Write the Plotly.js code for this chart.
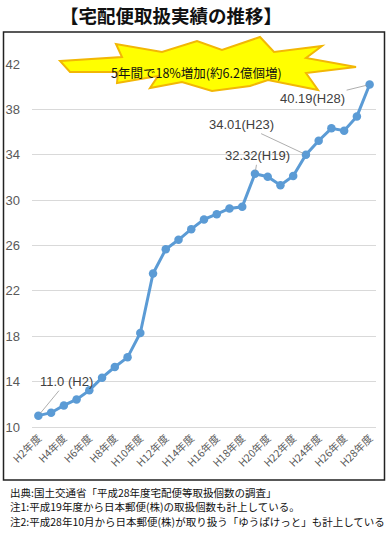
<!DOCTYPE html>
<html><head><meta charset="utf-8">
<script src="https://cdn.plot.ly/plotly-3.0.1.min.js"></script>
<style>html,body{margin:0;padding:0;background:#fff;}#chart{width:389px;height:534px;}</style>
</head><body><div id="chart"></div>
<script>
const years = ["H2年度","H3年度","H4年度","H5年度","H6年度","H7年度","H8年度","H9年度","H10年度","H11年度","H12年度","H13年度","H14年度","H15年度","H16年度","H17年度","H18年度","H19年度","H20年度","H21年度","H22年度","H23年度","H24年度","H25年度","H26年度","H27年度","H28年度"];
const volumes = [11.0,11.26,11.9,12.43,13.23,14.35,15.29,16.14,18.29,23.53,25.67,26.5,27.44,28.3,28.76,29.27,29.41,32.32,32.06,31.32,32.12,34.01,35.23,36.33,36.12,37.38,40.19];
const tickLabels = years.filter((_, i) => i % 2 === 0);
const yTicks = [10,14,18,22,26,30,34,38,42];
const labelled = [
  {idx:0, text:"11.0 (H2)", ax:28, ay:-34},
  {idx:17, text:"32.32(H19)", ax:3, ay:-18},
  {idx:21, text:"34.01(H23)", ax:-64, ay:-30},
  {idx:26, text:"40.19(H28)", ax:-57, ay:14}
];
const title = "【宅配便取扱実績の推移】";
const callout = "5年間で18%増加(約6.2億個増)";
const notes = ["出典:国土交通省「平成28年度宅配便等取扱個数の調査」",
  "注1:平成19年度から日本郵便(株)の取扱個数も計上している。",
  "注2:平成28年10月から日本郵便(株)が取り扱う「ゆうぱけっと」も計上している"];

// pixel -> paper helpers (plot area: x 32..376, y 64..427)
const L=32, R=376, T=64, B=427;
const px = x => (x-L)/(R-L);
const py = y => (B-y)/(B-T);

const starPts = [[60,61],[122,57],[116,44],[162,52],[197,41],[222,50],[260,37],[274,52],[322,46],[306,58],[356,67],[306,73],[318,90],[268,80],[250,86],[212,91],[182,82],[150,88],[158,76],[117,83],[118,72],[70,72]];
const starPath = starPts.map((p,i)=>(i?'L':'M')+px(p[0]).toFixed(4)+','+py(p[1]).toFixed(4)).join(' ')+' Z';

const trace = {
  x: years, y: volumes, type:'scatter', mode:'lines+markers',
  line:{color:'#5B9BD5', width:3},
  marker:{color:'#5B9BD5', size:8.5},
  hoverinfo:'skip', cliponaxis:false
};

const annotations = labelled.map(a => ({
  x: years[a.idx], y: volumes[a.idx], xref:'x', yref:'y',
  text:a.text, showarrow:true, arrowhead:0, arrowwidth:0.8, arrowcolor:'#999',
  ax:a.ax, ay:a.ay, standoff:3,
  font:{family:'Liberation Sans, Arial, sans-serif', size:13, color:'#404040'}
}));
annotations.push({xref:'paper', yref:'paper', x:px(171), y:py(15), text:'<b>'+title+'</b>', showarrow:false,
  font:{family:'Noto Sans CJK JP', size:18.5, color:'#111'}, xanchor:'center', yanchor:'middle'});
annotations.push({xref:'paper', yref:'paper', x:px(196), y:py(72), text:callout, showarrow:false,
  font:{family:'Noto Sans CJK JP', size:12.5, color:'#111'}, xanchor:'center', yanchor:'middle'});
notes.forEach((n,i)=>annotations.push({xref:'paper', yref:'paper', x:px(8), y:py(492+14.5*i), text:n, showarrow:false,
  font:{family:'Noto Sans CJK JP', size:10.5, color:'#111'}, xanchor:'left', yanchor:'middle'}));

const layout = {
  width:389, height:534,
  margin:{l:L, r:389-R, t:T, b:534-B, pad:0},
  paper_bgcolor:'#fff', plot_bgcolor:'#fff',
  showlegend:false,
  xaxis:{type:'category', range:[-0.5,26.5], tickvals:tickLabels, ticktext:tickLabels,
    tickangle:-45, tickfont:{family:'Noto Sans CJK JP', size:10.5, color:'#595959'},
    showgrid:false, showline:true, linecolor:'#d9d9d9', linewidth:1,
    ticks:'', zeroline:false, fixedrange:true},
  yaxis:{range:[10,42], tickvals:yTicks, showgrid:true, gridcolor:'#d9d9d9', gridwidth:1,
    tickfont:{family:'Liberation Sans, Arial, sans-serif', size:13, color:'#595959'},
    showline:false, zeroline:false, ticks:'', ticklabelstandoff:11, fixedrange:true},
  shapes:[
    {type:'rect', xref:'paper', yref:'paper', x0:px(3.5), x1:px(384.5), y0:py(32), y1:py(480),
      line:{color:'#222', width:1.5}, fillcolor:'rgba(0,0,0,0)', layer:'below'},
    {type:'path', xref:'paper', yref:'paper', path:starPath, fillcolor:'#FFFF00',
      line:{color:'#F2B705', width:2}, layer:'above'}
  ],
  annotations: annotations
};
Plotly.newPlot('chart',[trace],layout,{displayModeBar:false, staticPlot:true});
</script></body></html>
